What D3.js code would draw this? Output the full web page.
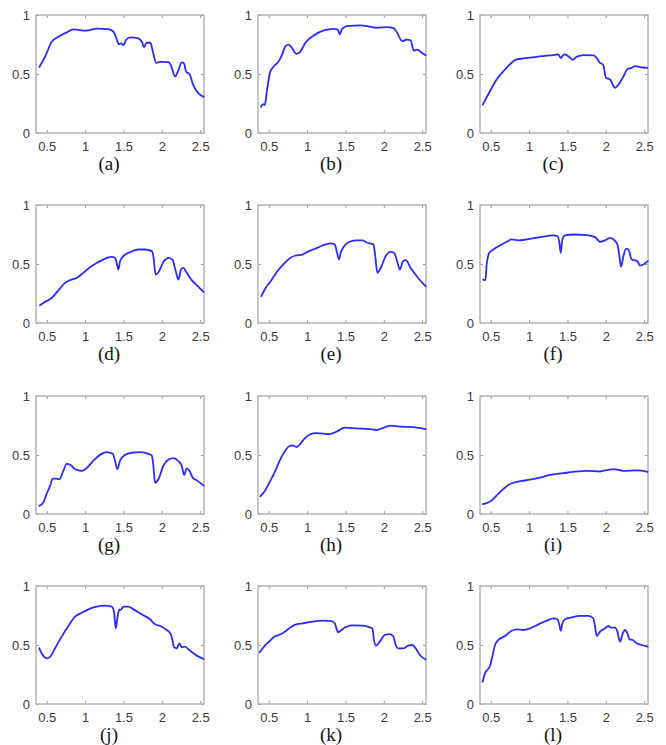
<!DOCTYPE html>
<html><head><meta charset="utf-8">
<script src="https://cdn.jsdelivr.net/npm/d3@7"></script>
<style>body{margin:0;background:#fff}svg{display:block}</style>
</head><body><svg id="c" width="666" height="745"></svg>
<script>
const xTicks = [0.5, 1, 1.5, 2, 2.5];
const xTickLabels = ["0.5", "1", "1.5", "2", "2.5"];
const yTicks = [0, 0.5, 1];
const yTickLabels = ["0", "0.5", "1"];
const panelLabels = ["(a)","(b)","(c)","(d)","(e)","(f)","(g)","(h)","(i)","(j)","(k)","(l)"];

const specA = [[0.404,0.56],[0.478,0.646],[0.565,0.773],[0.652,0.816],[0.76,0.853],[0.848,0.878],[1.02,0.867],[1.15,0.884],[1.30,0.881],[1.37,0.858],[1.41,0.80],[1.44,0.753],[1.47,0.76],[1.50,0.745],[1.535,0.79],[1.587,0.81],[1.674,0.807],[1.74,0.773],[1.77,0.725],[1.80,0.765],[1.85,0.765],[1.88,0.70],[1.926,0.595],[1.978,0.603],[2.087,0.60],[2.117,0.575],[2.174,0.48],[2.217,0.533],[2.26,0.598],[2.29,0.59],[2.317,0.518],[2.36,0.50],[2.41,0.405],[2.48,0.334],[2.545,0.306]];
const specB = [[0.40,0.222],[0.426,0.245],[0.448,0.236],[0.478,0.365],[0.52,0.52],[0.565,0.564],[0.63,0.607],[0.674,0.664],[0.717,0.735],[0.76,0.749],[0.804,0.72],[0.86,0.67],[0.913,0.692],[0.978,0.764],[1.087,0.826],[1.217,0.869],[1.348,0.883],[1.40,0.877],[1.426,0.835],[1.457,0.883],[1.52,0.906],[1.696,0.912],[1.78,0.906],[1.913,0.892],[2.04,0.897],[2.13,0.886],[2.174,0.849],[2.24,0.778],[2.30,0.792],[2.35,0.786],[2.39,0.698],[2.435,0.707],[2.50,0.678],[2.545,0.658]];
const specC = [[0.395,0.24],[0.49,0.354],[0.577,0.453],[0.686,0.538],[0.773,0.595],[0.816,0.618],[0.925,0.632],[1.10,0.646],[1.273,0.657],[1.38,0.666],[1.412,0.635],[1.455,0.666],[1.49,0.66],[1.534,0.637],[1.569,0.62],[1.62,0.646],[1.708,0.66],[1.838,0.657],[1.88,0.637],[1.916,0.60],[1.968,0.575],[2.0,0.467],[2.055,0.453],[2.09,0.41],[2.12,0.382],[2.164,0.41],[2.23,0.48],[2.286,0.544],[2.338,0.552],[2.38,0.567],[2.447,0.558],[2.54,0.552]];
const specD = [[0.412,0.15],[0.477,0.178],[0.564,0.212],[0.65,0.275],[0.738,0.34],[0.803,0.363],[0.89,0.382],[0.977,0.425],[1.064,0.473],[1.173,0.516],[1.282,0.552],[1.347,0.561],[1.39,0.552],[1.416,0.496],[1.434,0.453],[1.456,0.524],[1.50,0.567],[1.586,0.60],[1.695,0.623],[1.782,0.623],[1.869,0.609],[1.89,0.567],[1.92,0.41],[1.956,0.43],[2.02,0.516],[2.086,0.552],[2.138,0.538],[2.182,0.439],[2.217,0.368],[2.25,0.453],[2.28,0.467],[2.325,0.425],[2.39,0.363],[2.455,0.32],[2.543,0.263]];
const specE = [[0.403,0.227],[0.46,0.297],[0.525,0.354],[0.612,0.439],[0.70,0.504],[0.786,0.552],[0.851,0.572],[0.938,0.58],[1.025,0.609],[1.134,0.637],[1.243,0.666],[1.308,0.674],[1.36,0.666],[1.386,0.609],[1.416,0.538],[1.438,0.595],[1.482,0.65],[1.547,0.686],[1.634,0.70],[1.72,0.70],[1.786,0.68],[1.864,0.666],[1.886,0.58],[1.916,0.425],[1.96,0.467],[2.025,0.567],[2.082,0.603],[2.134,0.595],[2.177,0.516],[2.21,0.453],[2.25,0.524],[2.286,0.533],[2.35,0.467],[2.438,0.39],[2.547,0.31]];
const specF = [[0.403,0.368],[0.43,0.363],[0.447,0.496],[0.482,0.595],[0.534,0.623],[0.62,0.657],[0.708,0.688],[0.773,0.708],[0.86,0.70],[0.969,0.708],[1.143,0.728],[1.317,0.742],[1.369,0.737],[1.395,0.68],[1.412,0.595],[1.434,0.708],[1.469,0.742],[1.578,0.75],[1.751,0.745],[1.86,0.728],[1.925,0.688],[1.99,0.70],[2.056,0.722],[2.10,0.708],[2.151,0.666],[2.177,0.567],[2.199,0.476],[2.23,0.567],[2.264,0.63],[2.295,0.623],[2.338,0.538],[2.382,0.53],[2.412,0.524],[2.447,0.487],[2.49,0.496],[2.547,0.524]];
const specG = [[0.403,0.069],[0.456,0.098],[0.50,0.173],[0.543,0.236],[0.577,0.30],[0.62,0.30],[0.664,0.294],[0.708,0.352],[0.76,0.424],[0.812,0.415],[0.869,0.38],[0.956,0.366],[1.03,0.395],[1.108,0.452],[1.195,0.501],[1.282,0.524],[1.36,0.51],[1.39,0.452],[1.42,0.38],[1.456,0.452],[1.52,0.501],[1.608,0.519],[1.717,0.524],[1.825,0.51],[1.869,0.496],[1.89,0.409],[1.912,0.265],[1.956,0.294],[2.02,0.409],[2.086,0.461],[2.151,0.473],[2.217,0.447],[2.26,0.409],[2.29,0.331],[2.325,0.386],[2.36,0.366],[2.403,0.308],[2.456,0.285],[2.543,0.242]];
const specH = [[0.39,0.15],[0.447,0.193],[0.512,0.271],[0.577,0.352],[0.643,0.452],[0.708,0.53],[0.773,0.576],[0.817,0.582],[0.86,0.568],[0.903,0.588],[0.969,0.64],[1.034,0.674],[1.12,0.686],[1.295,0.677],[1.382,0.697],[1.49,0.732],[1.643,0.726],[1.817,0.72],[1.903,0.712],[2.012,0.735],[2.099,0.749],[2.208,0.74],[2.338,0.738],[2.545,0.72]];
const specI = [[0.395,0.084],[0.447,0.092],[0.512,0.115],[0.60,0.173],[0.708,0.236],[0.795,0.265],[0.903,0.28],[1.012,0.291],[1.143,0.308],[1.273,0.331],[1.447,0.346],[1.577,0.357],[1.751,0.366],[1.925,0.36],[2.012,0.372],[2.099,0.38],[2.23,0.366],[2.403,0.369],[2.545,0.357]];
const specJ = [[0.403,0.472],[0.447,0.415],[0.50,0.387],[0.543,0.40],[0.608,0.472],[0.695,0.571],[0.782,0.661],[0.869,0.74],[0.956,0.774],[1.043,0.802],[1.151,0.825],[1.26,0.833],[1.347,0.825],[1.377,0.782],[1.40,0.641],[1.42,0.726],[1.447,0.802],[1.464,0.797],[1.50,0.825],[1.564,0.825],[1.63,0.802],[1.738,0.76],[1.847,0.718],[1.912,0.675],[2.0,0.655],[2.064,0.627],[2.116,0.593],[2.143,0.528],[2.16,0.48],[2.195,0.472],[2.23,0.514],[2.26,0.48],[2.30,0.486],[2.369,0.452],[2.456,0.41],[2.545,0.381]];
const specK = [[0.382,0.438],[0.447,0.492],[0.512,0.534],[0.577,0.571],[0.664,0.593],[0.751,0.633],[0.838,0.67],[0.947,0.684],[1.077,0.698],[1.208,0.706],[1.317,0.703],[1.36,0.684],[1.382,0.641],[1.403,0.607],[1.447,0.627],[1.512,0.655],[1.599,0.667],[1.73,0.664],[1.817,0.65],[1.852,0.641],[1.869,0.556],[1.895,0.494],[1.947,0.528],[2.012,0.585],[2.077,0.593],[2.121,0.576],[2.156,0.5],[2.186,0.472],[2.251,0.472],[2.317,0.494],[2.373,0.5],[2.425,0.463],[2.469,0.415],[2.545,0.379]];
const specL = [[0.395,0.189],[0.425,0.26],[0.456,0.288],[0.49,0.322],[0.525,0.415],[0.556,0.50],[0.599,0.542],[0.686,0.576],[0.773,0.621],[0.838,0.633],[0.925,0.627],[1.012,0.641],[1.121,0.675],[1.23,0.706],[1.317,0.726],[1.369,0.718],[1.395,0.67],[1.412,0.621],[1.434,0.684],[1.469,0.718],[1.556,0.734],[1.664,0.746],[1.773,0.746],[1.838,0.726],[1.86,0.655],[1.882,0.576],[1.925,0.613],[1.99,0.641],[2.034,0.661],[2.064,0.647],[2.121,0.647],[2.151,0.613],[2.186,0.528],[2.221,0.599],[2.251,0.627],[2.282,0.599],[2.308,0.548],[2.351,0.542],[2.403,0.514],[2.469,0.50],[2.545,0.486]];

const spectra = [specA,specB,specC,specD,specE,specF,specG,specH,specI,specJ,specK,specL];

const svg = d3.select("#c");
const colLefts = [36, 258, 480];
const rowTops = [15, 205, 396, 586];
const W = 168, H = 118;

const x = d3.scaleLinear().domain([0.36, 2.55]).range([0, W]);
const y = d3.scaleLinear().domain([0, 1]).range([H, 0]);
const line = d3.line().x(d => x(d[0])).y(d => y(d[1])).curve(d3.curveMonotoneX);

spectra.forEach((data, i) => {
  const r = Math.floor(i / 3), c = i % 3;
  const g = svg.append("g").attr("transform", `translate(${colLefts[c]},${rowTops[r]})`);

  // tick marks (inward) on all four sides
  const tickCol = "#9a9a9a";
  const bx = g.append("g").attr("transform", `translate(0,${H})`)
    .call(d3.axisBottom(x).tickValues(xTicks).tickSize(-3).tickFormat((d,k)=>xTickLabels[k]).tickPadding(6));
  const tx = g.append("g").call(d3.axisTop(x).tickValues(xTicks).tickSize(-3).tickFormat(""));
  const ly = g.append("g")
    .call(d3.axisLeft(y).tickValues(yTicks).tickSize(-3).tickFormat((d,k)=>yTickLabels[k]).tickPadding(6));
  const ry = g.append("g").attr("transform", `translate(${W},0)`)
    .call(d3.axisRight(y).tickValues(yTicks).tickSize(-3).tickFormat(""));
  [bx, tx, ly, ry].forEach(a => {
    a.select(".domain").remove();
    a.selectAll(".tick line").attr("stroke", tickCol).attr("stroke-width", 1);
    a.selectAll(".tick text").attr("fill", "#3a3a3a")
      .style("font-family", "Arial, 'Liberation Sans', sans-serif").style("font-size", "13px");
  });
  bx.selectAll(".tick text").attr("dy", "0.95em");

  g.append("rect").attr("x", 0).attr("y", 0).attr("width", W).attr("height", H)
    .attr("fill", "none").attr("stroke", "#b4b4b4").attr("stroke-width", 1.5);

  g.append("path").datum(data).attr("d", line)
    .attr("fill", "none").attr("stroke", "#2b2bff").attr("stroke-width", 1.8)
    .attr("stroke-linejoin", "round").attr("stroke-linecap", "round");

  g.append("text").attr("x", W/2 - 11).attr("y", H + 37)
    .attr("text-anchor", "middle")
    .style("font-family", "'Liberation Serif', 'Times New Roman', serif").style("font-size", "19px")
    .attr("fill", "#111").text(panelLabels[i]);
});
</script></body></html>
